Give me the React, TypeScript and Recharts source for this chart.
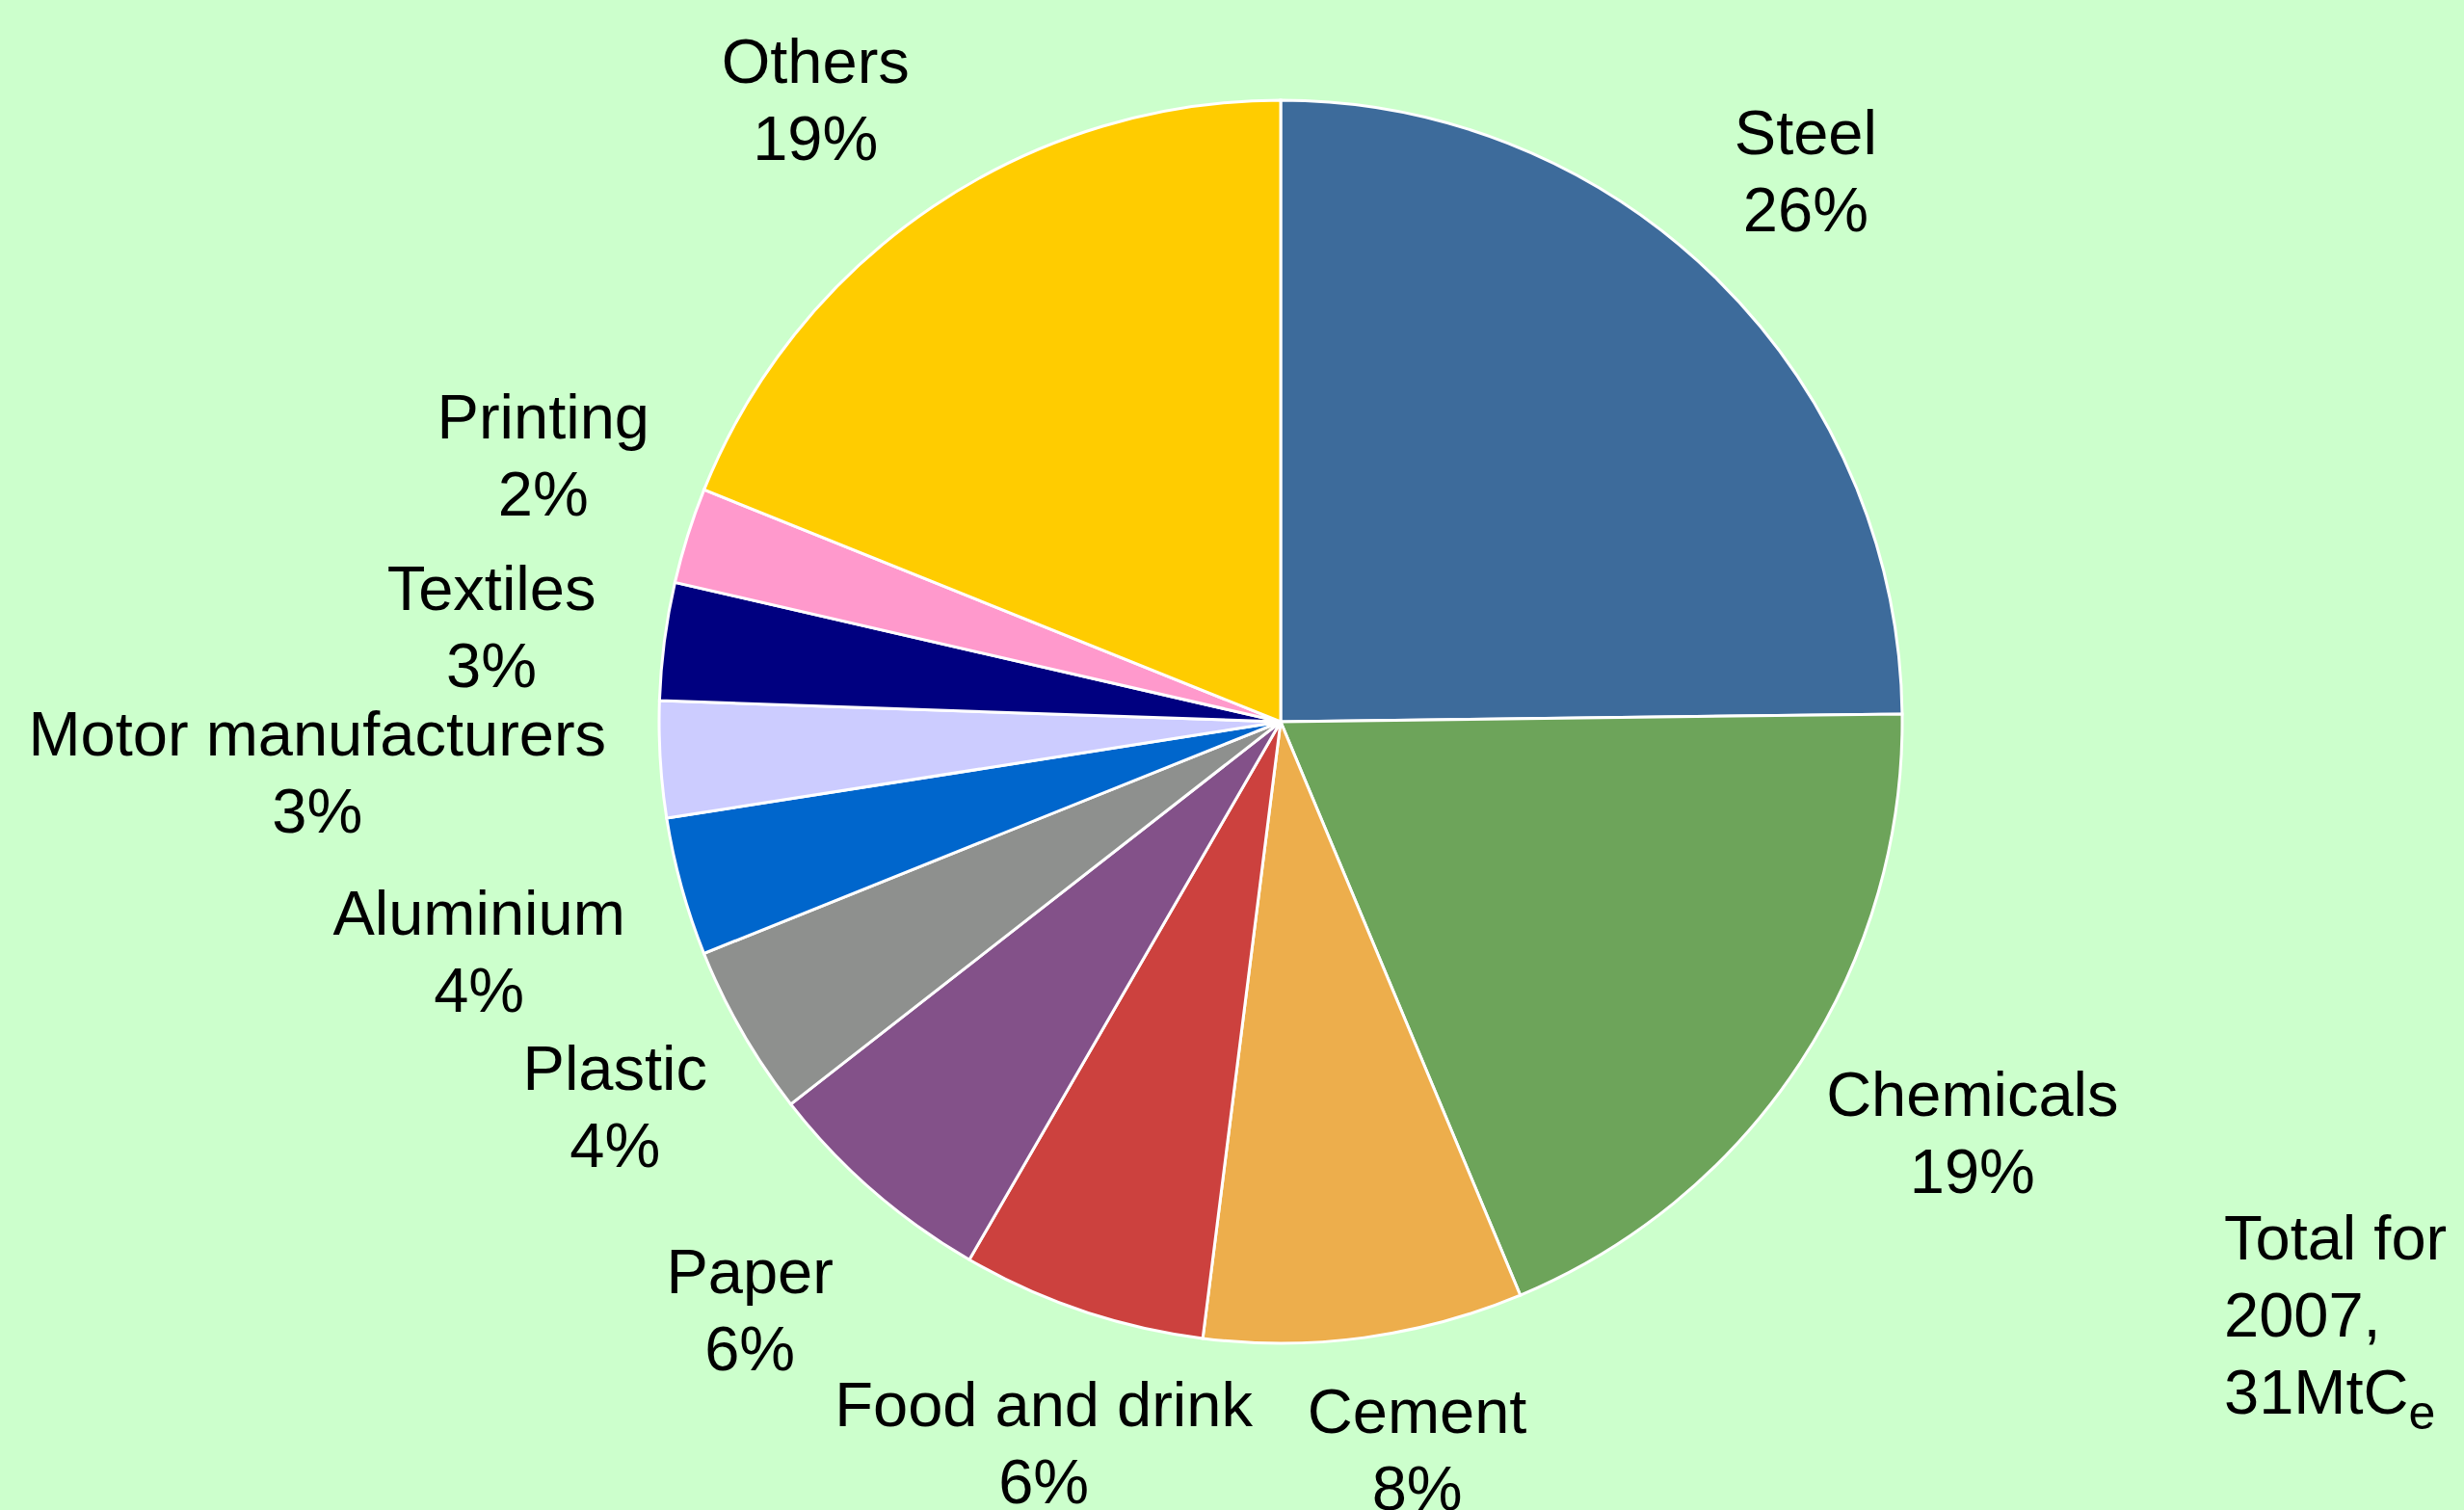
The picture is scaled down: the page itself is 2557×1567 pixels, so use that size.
import { PieChart, Pie, Cell } from 'recharts';

// sectors in clockwise order from 12 o'clock
const sectors = [
  'Steel', 'Chemicals', 'Cement', 'Food and drink', 'Paper', 'Plastic',
  'Aluminium', 'Motor manufacturers', 'Textiles', 'Printing', 'Others',
];
// share of the total (%) as measured from the slices
const shares = [24.8, 18.9, 8.3, 6.35, 6.1, 4.47, 3.6, 3.02, 3.06, 2.49, 18.91];
// printed percentage labels
const shareLabels = ['26%', '19%', '8%', '6%', '6%', '4%', '4%', '3%', '3%', '2%', '19%'];
const totalLines = ['Total for', '2007,', '31MtC'];

const colors = [
  '#3D6B9B', '#6DA45A', '#EDAE4C', '#CC413E', '#835189', '#8E908E',
  '#0066CC', '#CCCCFF', '#000080', '#FF99CC', '#FFCC00',
];

const data = sectors.map((name, i) => ({ name, value: shares[i], label: shareLabels[i] }));

// label placement: radial distance from centre and angular nudge (deg, clockwise)
const labelDist = [791, 834, 767, 786, 821, 797, 865, 1001, 825, 814, 807];
const labelNudge = [-1.1, -2.7, -2.9, -0.4, 1.1, 0, -0.5, 0.6, -0.5, 2.5, -2.7];

const W = 2557;
const H = 1567;
const FONT = '"Liberation Sans", Arial, sans-serif';
const RAD = Math.PI / 180;

const renderLabel = (props: any) => {
  const { cx, cy, midAngle, index } = props;
  const a = midAngle - labelNudge[index];
  const d = labelDist[index];
  const x = cx + Math.cos(-a * RAD) * d;
  const y = cy + Math.sin(-a * RAD) * d;
  return (
    <text
      key={`lbl-${index}`}
      x={x}
      y={y}
      textAnchor="middle"
      fontFamily={FONT}
      fontSize={65}
      fill="#000"
    >
      <tspan x={x} y={y - 16}>{data[index].name}</tspan>
      <tspan x={x} y={y + 64}>{data[index].label}</tspan>
    </text>
  );
};

export default function App() {
  return (
    <div style={{ position: 'absolute', left: 0, top: 0, width: W, height: H, background: '#CCFFCC', overflow: 'hidden' }}>
      <PieChart width={W} height={H} margin={{ top: 0, right: 0, bottom: 0, left: 0 }}>
        <Pie
          data={data}
          dataKey="value"
          nameKey="name"
          cx={1329}
          cy={749}
          outerRadius={645}
          startAngle={90}
          endAngle={-270}
          stroke="#FFFFFF"
          strokeWidth={3}
          labelLine={false}
          label={renderLabel}
          isAnimationActive={false}
        >
          {data.map((_, i) => (
            <Cell key={`cell-${i}`} fill={colors[i]} />
          ))}
        </Pie>
      </PieChart>
      <svg width={W} height={H} style={{ position: 'absolute', left: 0, top: 0, pointerEvents: 'none' }}>
        <text fontFamily={FONT} fontSize={65} fill="#000">
          <tspan x={2308} y={1307}>{totalLines[0]}</tspan>
          <tspan x={2308} y={1387}>{totalLines[1]}</tspan>
          <tspan x={2308} y={1467}>{totalLines[2]}</tspan>
          <tspan fontSize={50} dy={16}>e</tspan>
        </text>
      </svg>
    </div>
  );
}
